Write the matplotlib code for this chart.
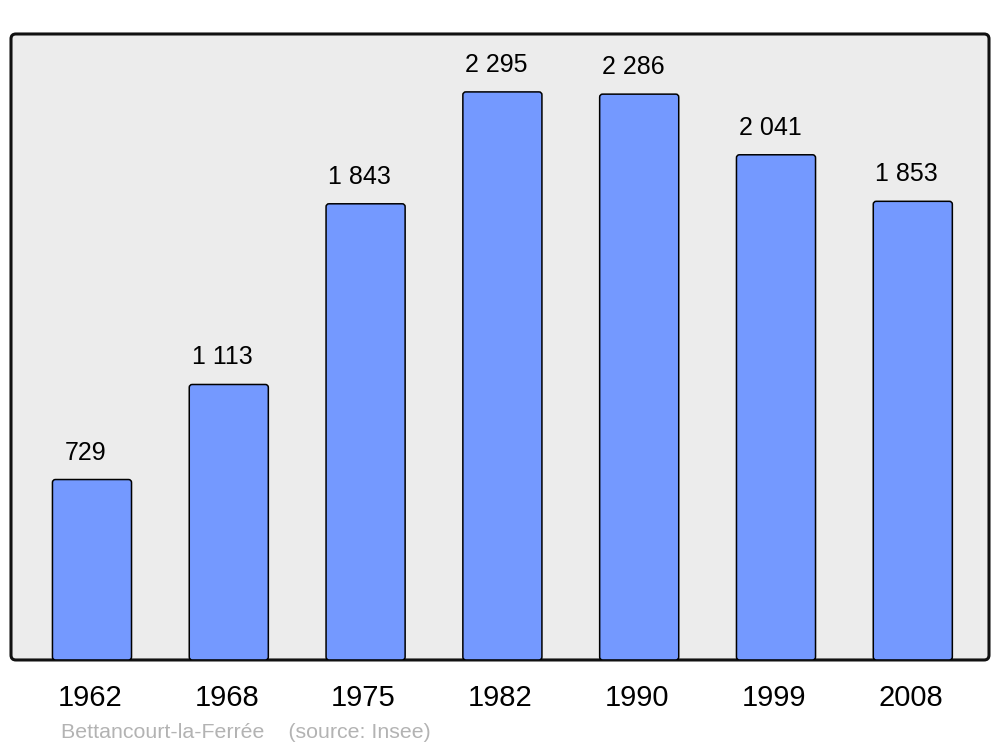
import matplotlib
matplotlib.use("Agg")
import matplotlib.pyplot as plt
import matplotlib.transforms as mtransforms
from matplotlib.patches import FancyBboxPatch

plt.rcParams['font.family'] = ['Liberation Sans', 'DejaVu Sans']

years = ['1962', '1968', '1975', '1982', '1990', '1999', '2008']
population = [729, 1113, 1843, 2295, 2286, 2041, 1853]
source_text = "Bettancourt-la-Ferrée    (source: Insee)"

bar_color = '#7499ff'
bg_color = '#ececec'

fig = plt.figure(figsize=(10, 7.47), dpi=100, facecolor='white')
ax = fig.add_axes([0.011, 0.1165, 0.978, 0.838])
ax.set_facecolor('none')
ax.set_xlim(-0.592, 6.557)
ax.set_ylim(0, 2529)

# px per data unit, used to keep rounded corners round
ax_w_px, ax_h_px = 978, 626
xs = ax_w_px / (6.557 + 0.592)
ys = ax_h_px / 2529

# frame with rounded corners
frame = FancyBboxPatch((0, 0), 1, 1, boxstyle="round,pad=0,rounding_size=0.005",
                       mutation_aspect=ax_w_px / ax_h_px, transform=ax.transAxes,
                       facecolor=bg_color, edgecolor='#111111', linewidth=2.2,
                       zorder=0, clip_on=False)
ax.add_patch(frame)

bars = ax.bar(range(len(years)), population, width=0.578, color=bar_color)
for b in bars:
    b.set_visible(False)
    rb = FancyBboxPatch((b.get_x(), b.get_y()), b.get_width(), b.get_height(),
                        boxstyle="round,pad=0,rounding_size=%f" % (3 / xs),
                        mutation_aspect=xs / ys, facecolor=bar_color,
                        edgecolor='black', linewidth=1.1, zorder=2)
    ax.add_patch(rb)

for i, v in enumerate(population):
    ax.annotate(f"{v:,}".replace(",", " "), (i, v), xytext=(-6, 20),
                textcoords='offset pixels', ha='center', va='baseline',
                fontsize=18, color='black')

for s in ax.spines.values():
    s.set_visible(False)
ax.set_yticks([])
ax.set_xticks(range(len(years)))
ax.set_xticklabels(years, fontsize=21)
ax.tick_params(axis='x', length=0, pad=17)
# nudge tick labels a touch to the left
shift = mtransforms.ScaledTranslation(-2 / 100, 0, fig.dpi_scale_trans)
for lbl in ax.get_xticklabels():
    lbl.set_transform(lbl.get_transform() + shift)

fig.text(0.061, 0.012, source_text, fontsize=15.4, color='#b3b3b3', va='baseline')

fig.savefig("out.png", dpi=100)
